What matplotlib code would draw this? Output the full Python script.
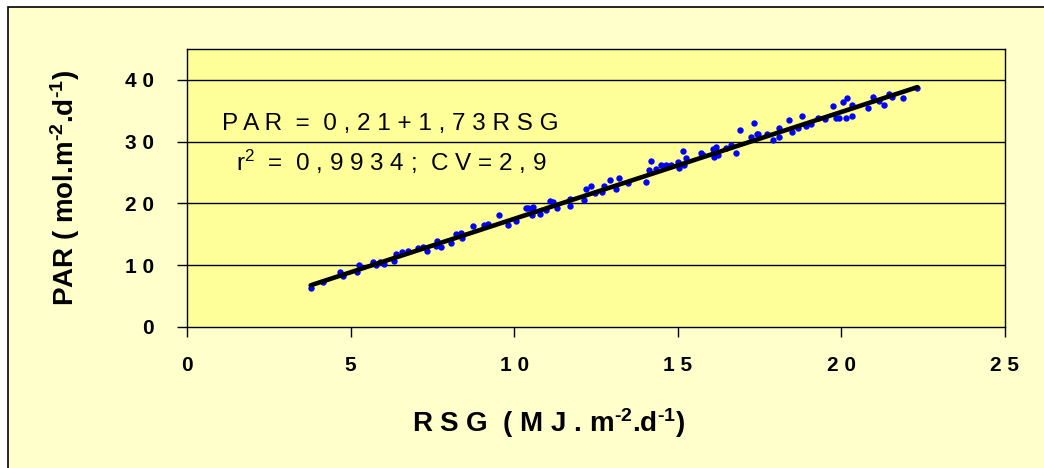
import numpy as np
import matplotlib.pyplot as plt
from matplotlib.patches import Rectangle

# daily global radiation (MJ m-2 d-1) vs PAR (mol m-2 d-1)
rsg = [3.78, 4.16, 4.69, 4.77, 5.20, 5.26, 5.67, 5.77, 5.89, 6.02,
       6.33, 6.40, 6.58, 6.76, 7.06, 7.21, 7.35, 7.64, 7.62, 7.75,
       8.08, 8.23, 8.40, 8.38, 8.74, 9.08, 9.20, 9.55, 9.82, 10.06,
       10.42, 10.55, 10.57, 10.37, 10.55, 10.80, 10.98, 11.08, 11.18, 11.30,
       11.71, 11.72, 12.12, 12.20, 12.35, 12.48, 12.69, 12.73, 12.93, 13.12,
       13.20, 13.47, 14.03, 14.11, 14.18, 14.34, 14.49, 14.64, 14.79, 15.00,
       15.03, 15.17, 15.20, 15.25, 15.71, 15.76, 16.07, 16.17, 16.12, 16.22,
       16.47, 16.63, 16.78, 16.90, 17.24, 17.41, 17.34, 17.44, 17.74, 17.90,
       18.08, 18.10, 18.40, 18.49, 18.66, 18.81, 18.92, 19.07, 19.27, 19.50,
       19.75, 19.83, 19.93, 20.05, 20.16, 20.14, 20.32, 20.32, 20.80, 20.97,
       21.15, 21.30, 21.46, 21.54, 21.89, 22.32]
par = [6.36, 7.30, 8.95, 8.25, 8.95, 9.98, 10.50, 9.98, 10.57, 10.20,
       10.73, 11.80, 12.20, 12.35, 12.80, 13.00, 12.35, 13.97, 13.10, 13.00,
       13.65, 15.05, 14.35, 15.26, 16.34, 16.50, 16.60, 18.20, 16.50, 17.20,
       19.30, 18.10, 19.37, 19.20, 19.20, 18.30, 18.90, 20.40, 20.30, 19.30,
       20.80, 19.60, 20.50, 22.40, 22.80, 21.70, 21.90, 22.80, 23.80, 22.40,
       24.06, 23.25, 23.40, 25.40, 26.90, 25.50, 26.20, 26.20, 26.20, 26.75,
       25.70, 28.50, 26.20, 27.30, 28.20, 27.80, 28.75, 29.20, 27.45, 27.80,
       28.90, 29.45, 28.20, 31.90, 30.80, 31.20, 33.10, 31.20, 31.20, 30.30,
       32.15, 30.80, 33.50, 31.50, 32.15, 34.20, 32.60, 32.80, 33.80, 33.60,
       35.80, 33.90, 33.90, 36.45, 37.10, 33.90, 36.00, 34.20, 35.40, 37.30,
       36.60, 36.00, 37.65, 37.30, 37.00, 38.70]

# fitted line PAR = a + b*RSG
a, b = 0.21, 1.73

x_ticks = [0, 5, 10, 15, 20, 25]
y_ticks = [0, 10, 20, 30, 40]

plt.rcParams['font.family'] = 'Liberation Sans'
plt.rcParams['mathtext.fontset'] = 'custom'
plt.rcParams['mathtext.rm'] = 'Liberation Sans'
plt.rcParams['mathtext.bf'] = 'Liberation Sans:bold'
plt.rcParams['mathtext.default'] = 'bf'

fig = plt.figure(figsize=(10.44, 4.68), dpi=100, facecolor='white')
# light yellow chart area with a thin black frame
fig.patches.append(Rectangle((8 / 1044, -0.05), 1.2, 1 - 7 / 468 + 0.05,
                             transform=fig.transFigure, facecolor='#FFFFCC',
                             edgecolor='black', lw=1.2, zorder=-5))

ax = fig.add_axes([187 / 1044, 1 - 327 / 468, 818 / 1044, 278 / 468])
ax.set_facecolor('#FFFF99')

ax.plot(rsg, par, 'o', color='#0000FF', ms=4.6, mew=0, zorder=3)
xl = np.array([min(rsg), max(rsg)])
ax.plot(xl, a + b * xl, color='black', lw=3.3, solid_capstyle='round', zorder=4)

ax.set_xlim(0, 25)
ax.set_ylim(0, 45)
ax.set_xticks(x_ticks)
ax.set_yticks(y_ticks)
ax.set_xticklabels([' '.join(str(v)) for v in x_ticks], fontsize=15, fontweight='bold')
ax.set_yticklabels([' '.join(str(v)) for v in y_ticks], fontsize=15, fontweight='bold')
ax.tick_params(direction='out', length=7, width=1, color='black')
ax.tick_params(axis='x', pad=14)
ax.tick_params(axis='y', pad=17)
for y in y_ticks[1:]:
    ax.axhline(y, color='black', lw=1, zorder=1)
for s in ax.spines.values():
    s.set_color('black')
    s.set_linewidth(1)

ax.set_xlabel('R S G  ( M J . m$^{\u2010 2}$.d$^{\u2010 1}$)', fontsize=20, fontweight='bold')
ax.xaxis.set_label_coords(0.4425, -0.285)
ax.set_ylabel('PAR ( mol.m$^{\u20102}$.d$^{\u20101}$)', fontsize=20, fontweight='bold')
ax.yaxis.set_label_coords(-0.128, 0.5)

ax.text(0.249, 0.73, 'P A R  =  0 , 2 1 + 1 , 7 3 R S G', transform=ax.transAxes,
        ha='center', va='center', fontsize=17.5)
ax.text(0.25, 0.594, r'r$^{\mathrm{2}}$  =  0 , 9 9 3 4 ;  C V = 2 , 9', transform=ax.transAxes,
        ha='center', va='center', fontsize=17.5)

fig.savefig('out.png', dpi=100, facecolor=fig.get_facecolor())
